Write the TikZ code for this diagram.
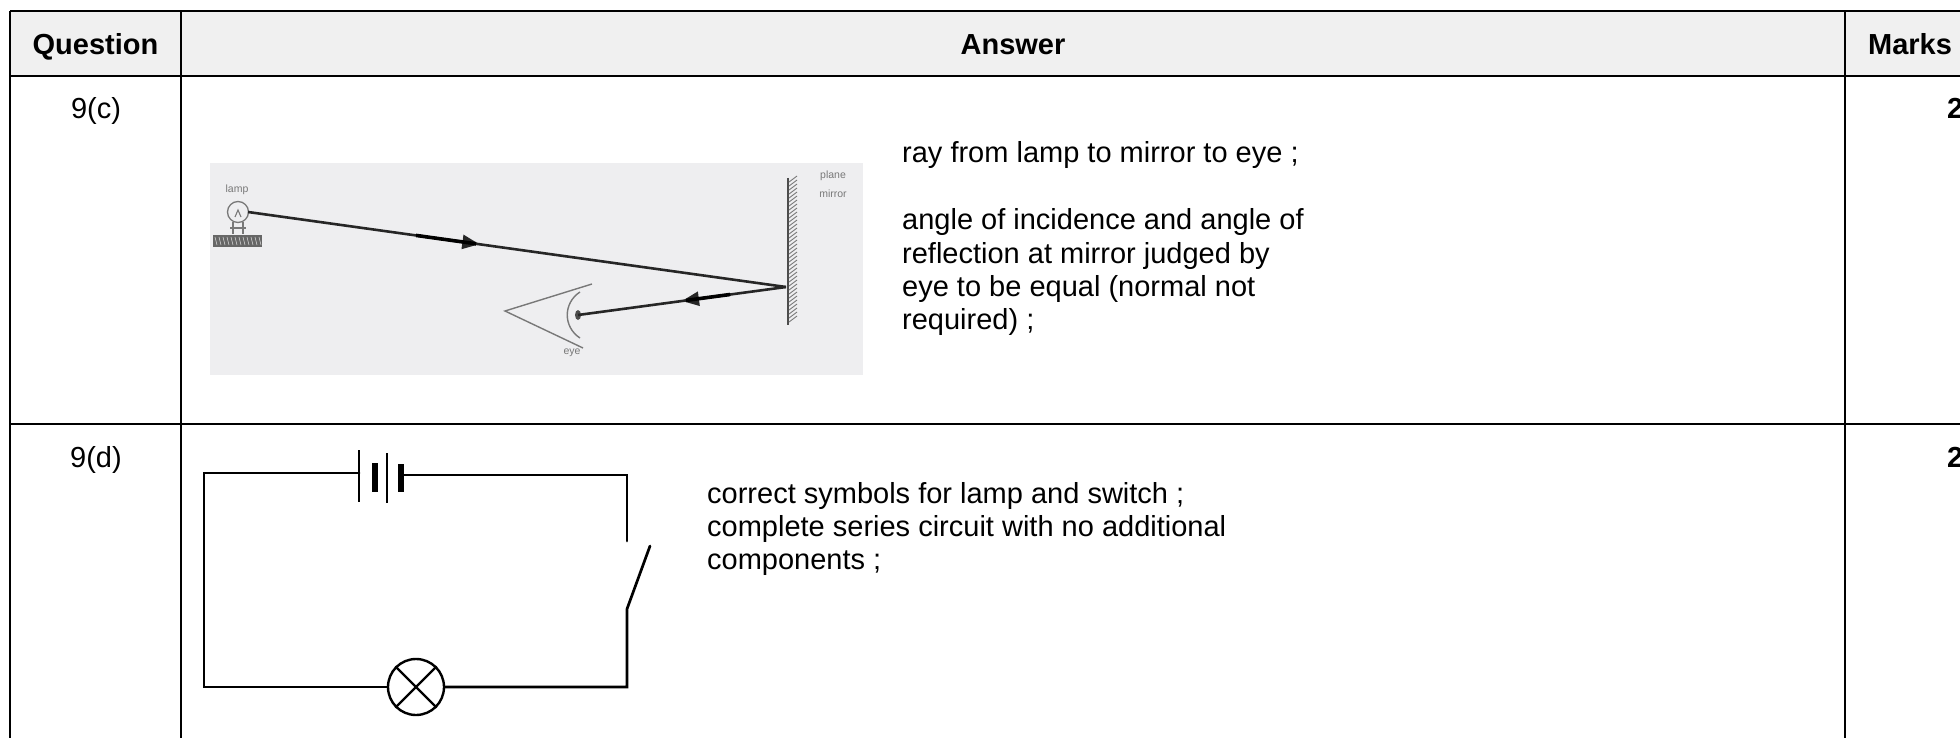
\documentclass[tikz,border=0pt]{standalone}
\usepackage{fontspec}
\setmainfont{Liberation Sans}
\usetikzlibrary{arrows.meta,decorations.markings}
\definecolor{headgray}{RGB}{240,240,240}
\definecolor{photogray}{RGB}{238,238,240}
\definecolor{scangray}{RGB}{120,120,120}
\tikzset{
  tline/.style={line width=2.7pt,black},
  body/.style={inner sep=0pt,anchor=base west,font=\fontsize{29}{33.5}\selectfont},
  head/.style={inner sep=0pt,anchor=base,font=\fontsize{29}{33.5}\selectfont\bfseries},
  qnum/.style={inner sep=0pt,anchor=base,font=\fontsize{29}{33.5}\selectfont},
  marknum/.style={inner sep=0pt,anchor=base west,font=\fontsize{29}{33.5}\selectfont\bfseries},
  tiny/.style={inner sep=0pt,font=\fontsize{10.5}{12}\selectfont,text=scangray},
  ray/.style={line width=2.6pt,black!85},
  wire/.style={line width=2.7pt,black,line cap=round},
  eyeline/.style={line width=1.4pt,scangray},
  midarrow/.style={postaction={decorate},decoration={markings,
     mark=at position #1 with {\arrow{Triangle[length=17pt,width=14pt]}}}}
}
\begin{document}
\begin{tikzpicture}[x=1pt,y=-1pt]
\useasboundingbox (0,0) rectangle (1960,738);
\clip (0,0) rectangle (1960,738);
% table
\fill[headgray] (10,11) rectangle (1990,76);
\draw[tline] (10,11) -- (1990,11);
\draw[tline] (10,76) -- (1990,76);
\draw[tline] (10,424) -- (1990,424);
\draw[tline] (10,11) -- (10,745);
\draw[tline] (181,11) -- (181,745);
\draw[tline] (1845,11) -- (1845,745);
\node[head] (hq) at (95.5,55) {Question};
\node[head] (ha) at (1013,55) {Answer};
\node[head] (hm) at (1910,55) {Marks};
\node[qnum] (q1) at (96,119) {9(c)};
\node[qnum] (q2) at (96,467) {9(d)};
\node[marknum] (m1) at (1947,119) {2};
\node[marknum] (m2) at (1947,467) {2};
% row 1 text
\node[body] (t1a) at (902,163) {ray from lamp to mirror to eye ;};
\node[body] (t1b) at (902,230) {angle of incidence and angle of};
\node[body] (t1c) at (902,263) {reflection at mirror judged by};
\node[body] (t1d) at (902,296) {eye to be equal (normal not};
\node[body] (t1e) at (902,329) {required) ;};
% row 1 picture
\fill[photogray] (210,163) rectangle (863,375);
% mirror
\draw[line width=1.6pt,black!70] (788,178) -- (788,325);
\foreach \yy in {182,186,...,324} {\draw[line width=0.9pt,scangray] (789,\yy) -- (797,\yy-6);}
\node[tiny] (pl1) at (833,176) {plane};
\node[tiny] (pl2) at (833,194) {mirror};
% lamp
\node[tiny,anchor=center] (lmplab) at (237,190) {lamp};
\draw[line width=1.3pt,scangray] (238,212) circle (10.5);
\draw[line width=1.1pt,scangray] (235,217) -- (238,210) -- (241,217);
\draw[line width=1.3pt,scangray] (233,222.5) -- (233,234) (243,222.5) -- (243,234) (230,228) -- (246,228);
\fill[black!60] (213,235) rectangle (262,247);
\foreach \xx in {215,219,...,259} {\draw[line width=0.6pt,white!70!gray] (\xx,237) -- (\xx+2,245);}
% eye
\draw[eyeline] (592,284) -- (505,311) -- (583,348);
\draw[eyeline] (580,292) .. controls (563,303) and (563,327) .. (580,338);
\fill[black!70] (578,315) ellipse (3 and 5);
\node[tiny,anchor=center] (eyelab) at (572,353) {eye};
% rays
\coordinate (lampc) at (248,212);
\coordinate (hit) at (786,287);
\coordinate (pupil) at (578,315);
\coordinate (thk1) at (416,235.4);
\coordinate (thk2) at (476,243.8);
\coordinate (thk3) at (686,300.4);
\coordinate (thk4) at (730,294.5);
\draw[ray,midarrow=0.43] (lampc) -- (hit);
\draw[ray,midarrow=0.50] (hit) -- (pupil);
\draw[line width=3.6pt,black] (thk1) -- (thk2);
\draw[line width=3.6pt,black] (thk3) -- (thk4);
% row 2 text
\node[body] (t2a) at (707,503) {correct symbols for lamp and switch ;};
\node[body] (t2b) at (707,536) {complete series circuit with no additional};
\node[body] (t2c) at (707,569) {components ;};
% circuit
\coordinate (tl) at (204,473);
\coordinate (bl) at (204,687);
\coordinate (tr) at (627,475);
\coordinate (swtop) at (627,541);
\coordinate (swpiv) at (627,609);
\coordinate (swend) at (650,546);
\coordinate (br) at (627,687);
\coordinate (b1) at (359,473);
\coordinate (b4) at (401,475);
\node[draw,circle,line width=2.4pt,minimum size=56pt,inner sep=0pt] (lampx) at (416,687) {};
\draw[line width=2.4pt] (lampx.north west) -- (lampx.south east);
\draw[line width=2.4pt] (lampx.north east) -- (lampx.south west);
\draw[wire] (lampx.west) -- (bl) -- (tl) -- (b1);
\draw[wire] (b4) -- (tr) -- (swtop);
\draw[wire] (swend) -- (swpiv) -- (br) -- (lampx.east);
% battery plates
\draw[line width=2.6pt] (359,450) -- (359,502);
\draw[line width=6pt] (375,463) -- (375,492);
\draw[line width=2.6pt] (387,453) -- (387,503);
\draw[line width=6pt] (401,464) -- (401,492);
\end{tikzpicture}
\end{document}
